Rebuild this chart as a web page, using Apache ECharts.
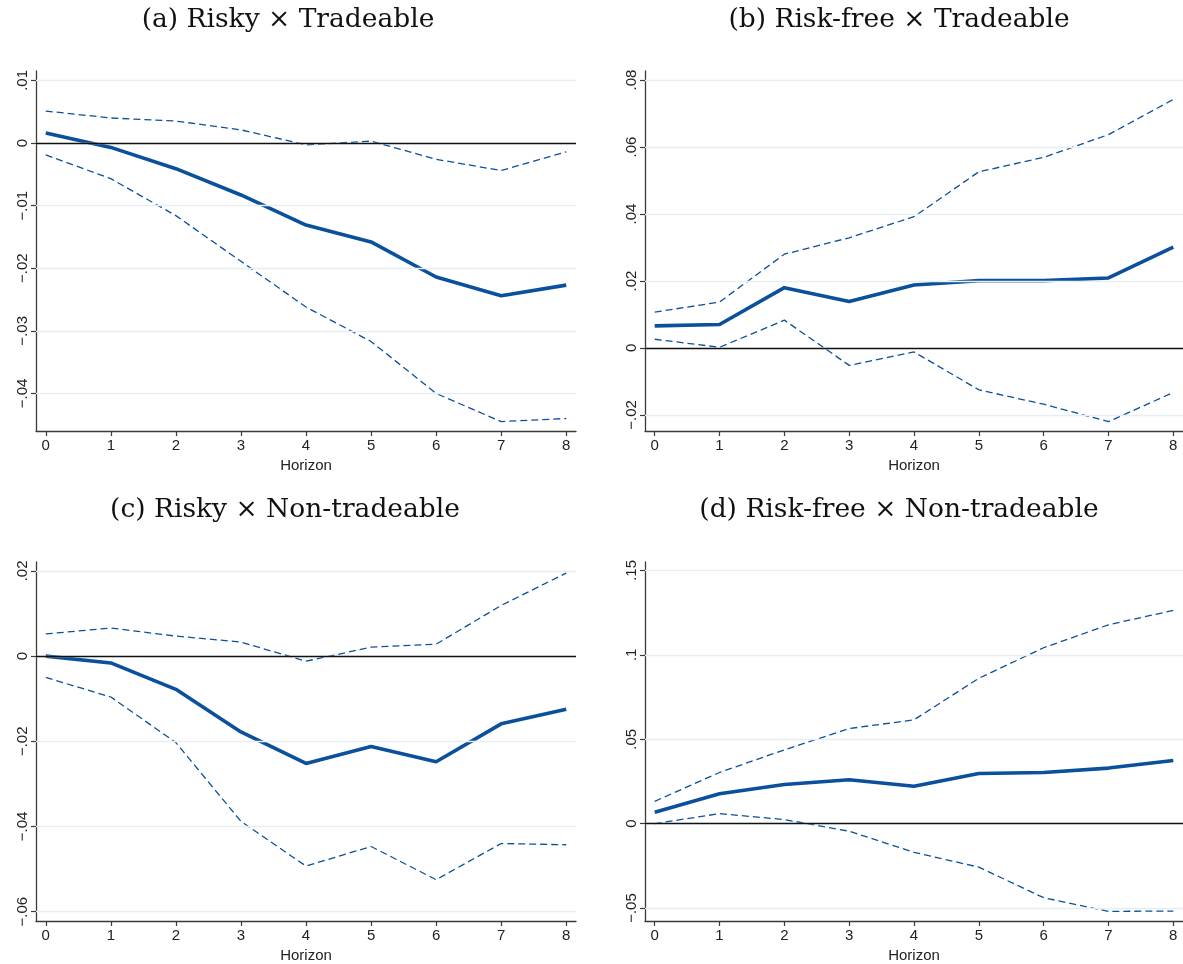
<!DOCTYPE html>
<html>
<head>
<meta charset="utf-8">
<script src="https://cdn.jsdelivr.net/npm/echarts@6/dist/echarts.min.js"></script>
<style>
html,body{margin:0;padding:0;background:#fff;}
#chart{width:1183px;height:964px;}
</style>
</head>
<body>
<div id="chart"></div>
<script>
// ---------------- data ----------------
const horizon = [0, 1, 2, 3, 4, 5, 6, 7, 8];

const titleA = '(a) Risky \u00d7 Tradeable';
const titleB = '(b) Risk-free \u00d7 Tradeable';
const titleC = '(c) Risky \u00d7 Non-tradeable';
const titleD = '(d) Risk-free \u00d7 Non-tradeable';
const xAxisName = 'Horizon';

const aMain  = [0.0016, -0.0007, -0.0041, -0.0083, -0.0131, -0.0158, -0.0214, -0.0244, -0.0227];
const aUpper = [0.0051, 0.0040, 0.0035, 0.0021, -0.0003, 0.0003, -0.0026, -0.0044, -0.0014];
const aLower = [-0.0019, -0.0057, -0.0116, -0.0189, -0.0262, -0.0317, -0.0400, -0.0445, -0.0440];

const bMain  = [0.0066, 0.0070, 0.0180, 0.0139, 0.0188, 0.0201, 0.0201, 0.0209, 0.0301];
const bUpper = [0.0107, 0.0137, 0.0280, 0.0329, 0.0392, 0.0526, 0.0569, 0.0637, 0.0742];
const bLower = [0.0026, 0.0002, 0.0083, -0.0052, -0.0012, -0.0125, -0.0168, -0.0220, -0.0133];

const cMain  = [0.0000, -0.0016, -0.0078, -0.0178, -0.0252, -0.0212, -0.0248, -0.0159, -0.0125];
const cUpper = [0.0052, 0.0066, 0.0047, 0.0033, -0.0012, 0.0021, 0.0028, 0.0119, 0.0195];
const cLower = [-0.0050, -0.0096, -0.0203, -0.0388, -0.0493, -0.0447, -0.0525, -0.0440, -0.0443];

const dMain  = [0.0067, 0.0177, 0.0232, 0.0260, 0.0221, 0.0297, 0.0303, 0.0329, 0.0374];
const dUpper = [0.0132, 0.0303, 0.0437, 0.0563, 0.0615, 0.0861, 0.1042, 0.1178, 0.1263];
const dLower = [0.0000, 0.0059, 0.0024, -0.0045, -0.0170, -0.0258, -0.0439, -0.0520, -0.0518];

const xTicks = [0, 1, 2, 3, 4, 5, 6, 7, 8];
const xLabels = ['0', '1', '2', '3', '4', '5', '6', '7', '8'];

const yTicksA = [-0.04, -0.03, -0.02, -0.01, 0, 0.01];
const yLabelsA = ['\u2212.04', '\u2212.03', '\u2212.02', '\u2212.01', '0', '.01'];
const yTicksB = [-0.02, 0, 0.02, 0.04, 0.06, 0.08];
const yLabelsB = ['\u2212.02', '0', '.02', '.04', '.06', '.08'];
const yTicksC = [-0.06, -0.04, -0.02, 0, 0.02];
const yLabelsC = ['\u2212.06', '\u2212.04', '\u2212.02', '0', '.02'];
const yTicksD = [-0.05, 0, 0.05, 0.1, 0.15];
const yLabelsD = ['\u2212.05', '0', '.05', '.1', '.15'];

// ---------------- layout / style ----------------
const BLUE = '#0a509c';
const AXIS = '#3a3a3a';
const GRIDC = '#e6eef1';
const SANS = '"Liberation Sans", Arial, Helvetica, sans-serif';
const SERIF = '"DejaVu Serif", "Liberation Serif", serif';

const panels = [
  { title: titleA, titleX: 283, titleY: 2, grid: { left: 36, top: 71, width: 540, height: 360 }, yr: [-0.046, 0.0115], yt: yTicksA, yl: yLabelsA, main: aMain, up: aUpper, lo: aLower },
  { title: titleB, titleX: 894, titleY: 2, grid: { left: 645, top: 71, width: 538, height: 360 }, yr: [-0.0248, 0.0827], yt: yTicksB, yl: yLabelsB, main: bMain, up: bUpper, lo: bLower },
  { title: titleC, titleX: 280, titleY: 492, grid: { left: 36, top: 562, width: 540, height: 360 }, yr: [-0.0622, 0.0221], yt: yTicksC, yl: yLabelsC, main: cMain, up: cUpper, lo: cLower },
  { title: titleD, titleX: 894, titleY: 492, grid: { left: 645, top: 562, width: 538, height: 360 }, yr: [-0.0577, 0.155], yt: yTicksD, yl: yLabelsD, main: dMain, up: dUpper, lo: dLower }
];

function lookup(ticks, labels, v) {
  const i = ticks.findIndex(t => Math.abs(t - v) < 1e-9);
  return i >= 0 ? labels[i] : '';
}

const option = {
  animation: false,
  backgroundColor: '#ffffff',
  title: [], grid: [], xAxis: [], yAxis: [], series: []
};

panels.forEach((p, i) => {
  option.title.push({
    text: p.title, left: p.titleX, top: p.titleY, textAlign: 'center',
    textStyle: { fontFamily: SERIF, fontWeight: 'normal', fontSize: 26.5, color: '#111' }
  });
  option.grid.push(Object.assign({ containLabel: false }, p.grid));
  option.xAxis.push({
    type: 'value', gridIndex: i, min: -0.15, max: 8.15,
    name: xAxisName, nameLocation: 'middle', nameGap: 27,
    nameTextStyle: { fontFamily: SANS, fontSize: 15, color: '#222' },
    axisLine: { show: true, onZero: false, lineStyle: { color: AXIS, width: 1.3 } },
    axisTick: { show: true, length: 5, lineStyle: { color: AXIS, width: 1.2 }, customValues: xTicks },
    axisLabel: { show: true, fontFamily: SANS, fontSize: 15, color: '#222', margin: 7, customValues: xTicks,
      formatter: v => lookup(xTicks, xLabels, v) },
    splitLine: { show: false }
  });
  option.yAxis.push({
    type: 'value', gridIndex: i, min: p.yr[0], max: p.yr[1],
    axisLine: { show: true, onZero: false, lineStyle: { color: AXIS, width: 1.3 } },
    axisTick: { show: true, length: 5, lineStyle: { color: AXIS, width: 1.2 }, customValues: p.yt },
    axisLabel: { show: true, rotate: 90, fontFamily: SANS, fontSize: 15, color: '#222', margin: 6, customValues: p.yt,
      formatter: v => lookup(p.yt, p.yl, v) },
    splitLine: { show: false }
  });
  // gridlines + zero line
  option.series.push({
    type: 'line', xAxisIndex: i, yAxisIndex: i, data: [], z: 1, silent: true,
    markLine: {
      silent: true, symbol: ['none', 'none'], label: { show: false }, animation: false,
      data: p.yt.map(t => ({ yAxis: t, lineStyle: { color: GRIDC, width: 1.3, type: 'solid' } }))
        .concat([{ yAxis: 0, lineStyle: { color: '#111', width: 1.3, type: 'solid' } }])
    }
  });
  const mk = (arr) => horizon.map((h, k) => [h, arr[k]]);
  option.series.push({
    type: 'line', xAxisIndex: i, yAxisIndex: i, data: mk(p.up), z: 3, symbol: 'none', silent: true,
    lineStyle: { color: BLUE, width: 1.3, type: [7, 4] }
  });
  option.series.push({
    type: 'line', xAxisIndex: i, yAxisIndex: i, data: mk(p.lo), z: 3, symbol: 'none', silent: true,
    lineStyle: { color: BLUE, width: 1.3, type: [7, 4] }
  });
  option.series.push({
    type: 'line', xAxisIndex: i, yAxisIndex: i, data: mk(p.main), z: 4, symbol: 'none', silent: true,
    lineStyle: { color: BLUE, width: 3.6 }
  });
});

const chart = echarts.init(document.getElementById('chart'), null, { renderer: 'canvas' });
chart.setOption(option);
</script>
</body>
</html>
